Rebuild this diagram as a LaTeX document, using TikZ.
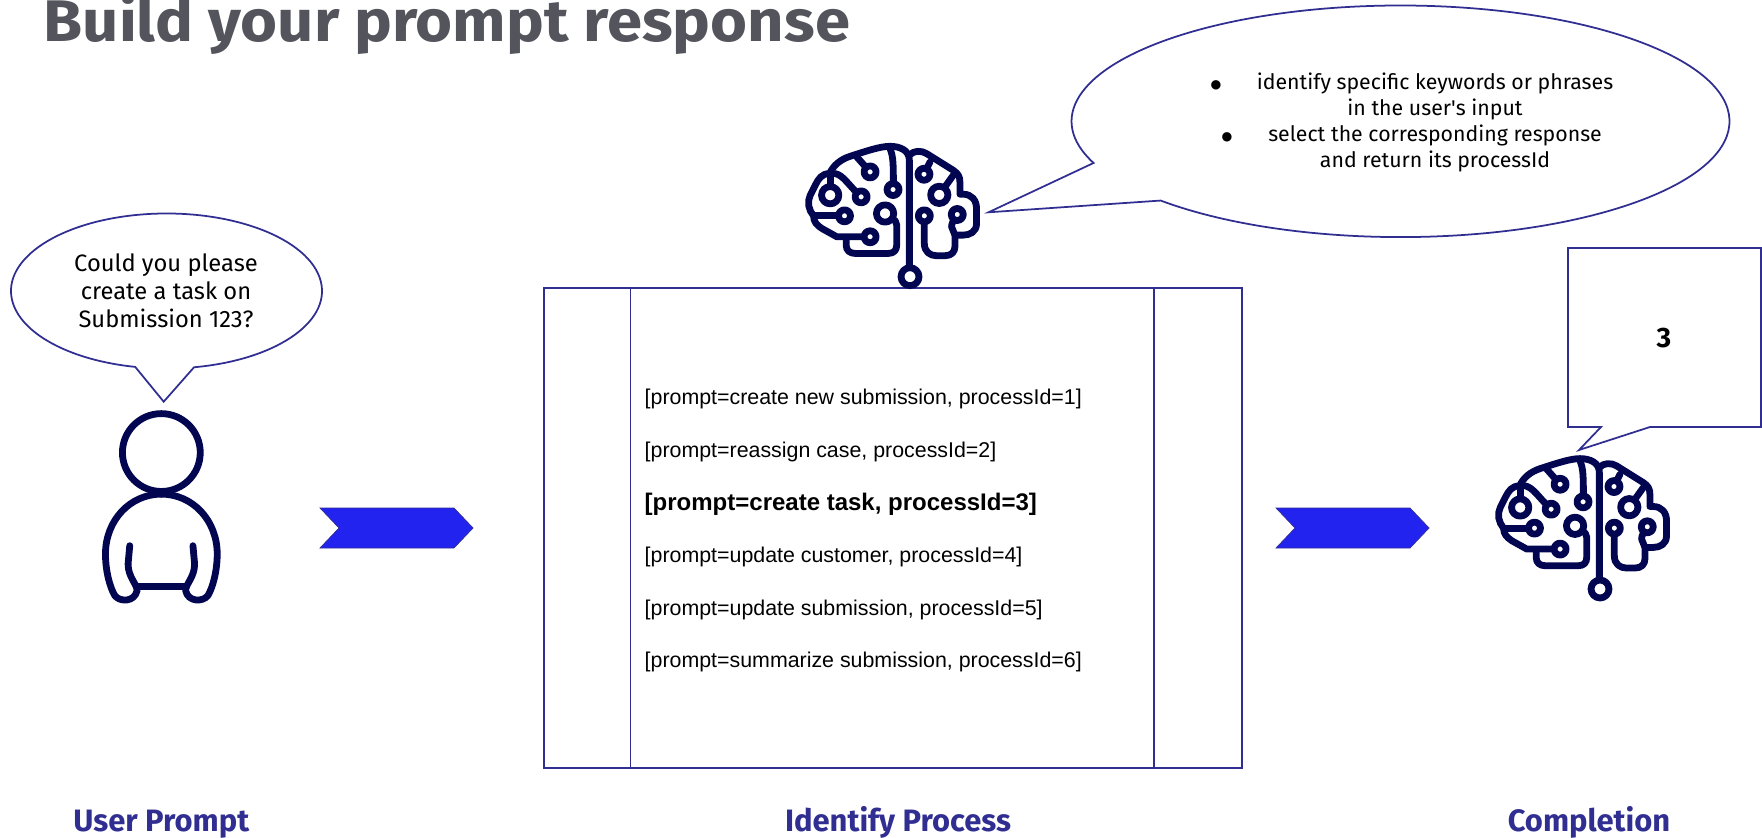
\documentclass[tikz,border=0pt]{standalone}
\usepackage{fontspec}
\setmainfont{Fira Sans}
\newfontfamily\headfont[FakeStretch=1.08]{Fira Sans}
\newfontfamily\arialfont{Liberation Sans}
\newfontfamily\dotfont{DejaVu Sans}
\definecolor{edgeblue}{HTML}{312E92}
\definecolor{arrowblue}{HTML}{2323F0}
\definecolor{iconnavy}{HTML}{020650}
\definecolor{titlegray}{HTML}{54545C}
\tikzset{
  bubble/.style={draw=edgeblue, line width=0.5pt, line join=miter},
  icon line/.style={draw=iconnavy, line width=0.068cm, line cap=round, line join=round},
  icon dot/.style={icon line, fill=white},
  main text/.style={anchor=base west, inner sep=0, font=\arialfont\fontsize{6.08}{7}\selectfont},
  bubble text/.style={anchor=base, inner sep=0, font=\fontsize{6.06}{7}\selectfont},
  ask text/.style={anchor=base, inner sep=0, font=\fontsize{6.75}{8}\selectfont},
  dot text/.style={anchor=base, inner sep=0, font=\dotfont\fontsize{3.5}{5}\selectfont},
  column label/.style={anchor=base, inner sep=0, text=edgeblue, font=\bfseries\fontsize{8.8}{10}\selectfont},
  flow arrow/.pic={
    \draw[draw=edgeblue, line width=0.2pt, fill=arrowblue] (0,0.2) -- (1.34,0.2) -- (1.53,0) -- (1.34,-0.2) -- (0,-0.2) -- (0.19,0) -- cycle;
  },
  brain/.pic={
    \begin{scope}[x=0.003333cm, y=-0.003333cm, shift={(-390,-470)}]
      \draw[icon line] (388,440) -- (388,120) .. controls (388,90) and (360,78) .. (330,78) .. controls (300,78) and (260,92) .. (210,108) .. controls (180,118) and (160,135) .. (148,160) .. controls (125,160) and (115,175) .. (105,195) -- (90,225) .. controls (80,245) and (85,270) .. (100,287) .. controls (100,305) and (110,315) .. (125,325) -- (170,350) -- (270,350);
      \draw[icon line] (198,352) -- (198,375) .. controls (198,392) and (210,400) .. (225,400) -- (325,400) .. controls (342,400) and (350,390) .. (350,375) -- (350,315) .. controls (350,305) and (345,300) .. (335,295);
      \draw[icon line] (388,105) .. controls (400,90) and (425,90) .. (440,100) -- (520,150) .. controls (535,160) and (540,170) .. (540,185) -- (540,222) -- (550,222) .. controls (575,222) and (590,240) .. (590,265) -- (590,310) .. controls (590,335) and (570,345) .. (550,345) -- (525,345);
      \draw[icon line] (433,287) -- (433,370) .. controls (433,395) and (450,407) .. (470,407) -- (495,407) .. controls (515,407) and (525,395) .. (525,380) -- (525,345) .. controls (525,335) and (515,330) .. (515,320) .. controls (515,310) and (520,300) .. (532,283);
      \draw[icon line] (100,287) -- (193,287);
      \draw[icon line] (150,160) -- (150,225);
      \draw[icon line] (165,160) .. controls (190,165) and (205,195) .. (243,230);
      \draw[icon line] (230,110) -- (270,155);
      \draw[icon line] (330,85) .. controls (340,110) and (340,130) .. (340,208);
      \draw[icon line] (450,125) -- (432,162);
      \draw[icon line] (520,165) -- (478,224);
      \foreach \cx/\cy in {193/287, 243/230, 270/155, 339/208, 270/350, 432/162, 433/287, 532/283}
        \draw[icon dot] (\cx,\cy) circle (18);
      \foreach \cx/\cy in {150/225, 315/280, 478/224}
        \draw[icon dot] (\cx,\cy) circle (26);
      \draw[icon dot] (390,470) circle (27);
    \end{scope}
  }
}
\begin{document}
\begin{tikzpicture}
  \useasboundingbox (0,0) rectangle (17.62,8.37);
  % heading and column labels
  \node[anchor=base west, inner sep=0, text=titlegray, font=\headfont\bfseries\fontsize{16.7}{20}\selectfont] (title) at (0.43,7.95) {Build your prompt response};
  \node[column label] (userlabel) at (1.613,0.06) {User Prompt};
  \node[column label] (processlabel) at (8.98,0.06) {Identify Process};
  \node[column label] (completionlabel) at (15.89,0.06) {Completion};
  % left bubble
  \draw[bubble] ([shift={(280.2:1.555 and 0.775)}]1.665,5.46) arc[start angle=280.2, end angle=618.4, x radius=1.555, y radius=0.775] -- (1.637,4.353) -- cycle;
  \node[ask text] (ask1) at (1.66,5.65) {Could you please};
  \node[ask text] (ask2) at (1.66,5.37) {create a task on};
  \node[ask text] (ask3) at (1.66,5.09) {Submission 123?};
  % person
  \begin{scope}[x=0.003333cm, y=-0.003333cm, shift={(485.1,-1155.9)}, shift={(-245,-215)}]
    \draw[icon line] (245,215) circle (117);
    \draw[icon line] (245,340) .. controls (150,340) and (77,420) .. (77,520) .. controls (77,570) and (90,620) .. (105,645) .. controls (120,665) and (165,665) .. (172,630) .. controls (172,610) and (145,590) .. (145,550) -- (150,495);
    \draw[icon line] (245,340) .. controls (340,340) and (413,420) .. (413,520) .. controls (413,570) and (400,620) .. (385,645) .. controls (370,665) and (325,665) .. (318,630) .. controls (318,610) and (345,590) .. (345,550) -- (340,495);
    \draw[icon line] (172,617) -- (318,617);
  \end{scope}
  \pic at (3.20,3.09) {flow arrow};
  \pic at (12.76,3.09) {flow arrow};
  % process box
  \draw[bubble] (5.44,0.69) rectangle (12.42,5.49);
  \draw[bubble] (6.305,0.69) -- (6.305,5.49);
  \draw[bubble] (11.54,0.69) -- (11.54,5.49);
  \node[main text] (proc1) at (6.44,4.32) {[prompt=create new submission, processId=1]};
  \node[main text] (proc2) at (6.44,3.797) {[prompt=reassign case, processId=2]};
  \node[main text, font=\arialfont\bfseries\fontsize{6.83}{8}\selectfont] (proc3) at (6.44,3.27) {[prompt=create task, processId=3]};
  \node[main text] (proc4) at (6.44,2.743) {[prompt=update customer, processId=4]};
  \node[main text] (proc5) at (6.44,2.22) {[prompt=update submission, processId=5]};
  \node[main text] (proc6) at (6.44,1.70) {[prompt=summarize submission, processId=6]};
  % top brain and bubble
  \pic at (9.10,5.603) {brain};
  \draw[bubble] ([shift={(223.2:3.29 and 1.158)}]14.005,7.157) arc[start angle=223.2, end angle=561.1, x radius=3.29, y radius=1.158] -- (9.885,6.247) -- cycle;
  \node[dot text] (dot1) at (12.16,7.48) {●};
  \node[bubble text] (rule1) at (14.35,7.47) {identify specific keywords or phrases};
  \node[bubble text] (rule2) at (14.35,7.213) {in the user\textquotesingle s input};
  \node[dot text] (dot2) at (12.27,6.963) {●};
  \node[bubble text] (rule3) at (14.35,6.953) {select the corresponding response};
  \node[bubble text] (rule4) at (14.35,6.693) {and return its processId};
  % completion
  \pic at (16.00,2.48) {brain};
  \draw[bubble] (15.68,5.89) -- (17.61,5.89) -- (17.61,4.10) -- (16.50,4.10) -- (15.79,3.87) -- (16.01,4.10) -- (15.68,4.10) -- cycle;
  \node[anchor=center, inner sep=0, font=\bfseries\fontsize{8}{9}\selectfont] (answer) at (16.64,4.99) {3};
\end{tikzpicture}
\end{document}
